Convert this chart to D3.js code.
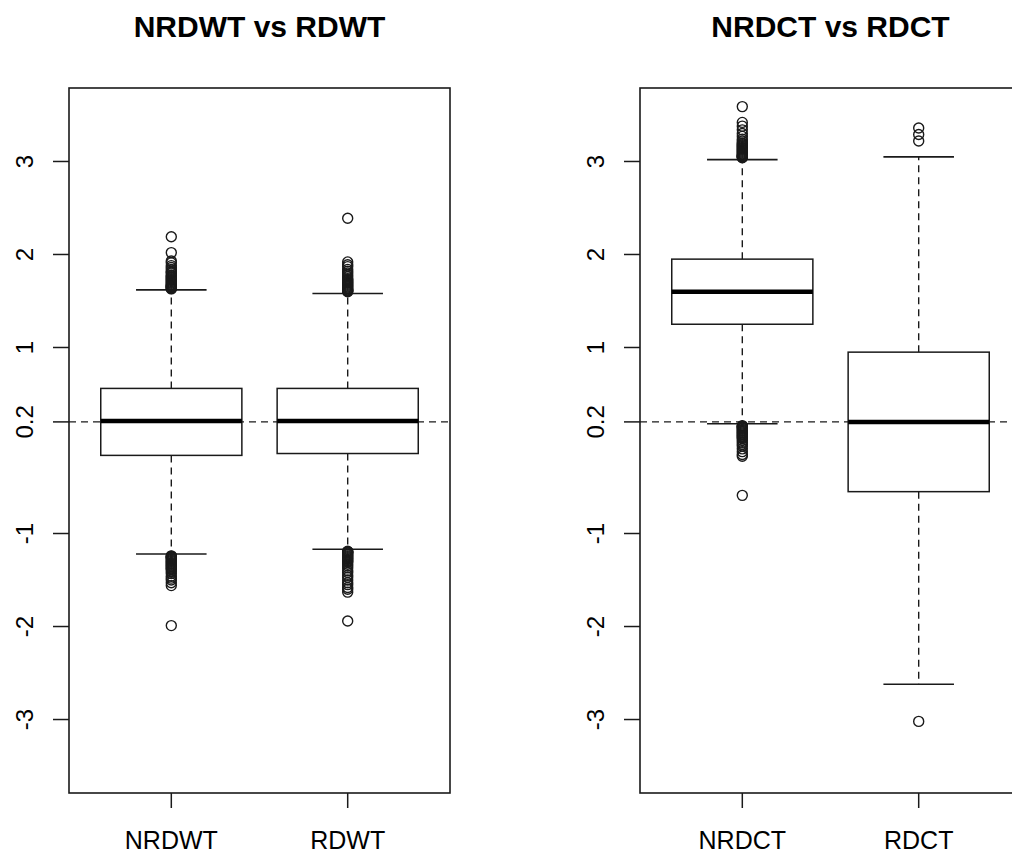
<!DOCTYPE html>
<html lang="en">
<head>
    <meta charset="UTF-8">
    <title>NRDWT vs RDWT / NRDCT vs RDCT</title>
    <script src="https://d3js.org/d3.v7.min.js"></script>
    <style>
        body { margin: 0; background: white; }
        svg { font-family: "Liberation Sans", Arial, sans-serif; }
    </style>
</head>
<body>
    <svg width="1012" height="858"></svg>

    <script>
        // ---- data ----
        const titles = ["NRDWT vs RDWT", "NRDCT vs RDCT"];
        const groups = [["NRDWT", "RDWT"], ["NRDCT", "RDCT"]];

        const whiskerLow = [[-1.22, -1.17], [0.18, -2.62]];
        const q1 = [[-0.16, -0.14], [1.25, -0.55]];
        const median = [[0.21, 0.21], [1.60, 0.20]];
        const q3 = [[0.56, 0.56], [1.95, 0.95]];
        const whiskerHigh = [[1.62, 1.58], [3.02, 3.05]];

        const outliers = [
            [
                // NRDWT
                [1.63, 1.635, 1.64, 1.645, 1.65, 1.655, 1.66, 1.665, 1.67, 1.68, 1.69, 1.70, 1.71, 1.72,
                 1.73, 1.74, 1.75, 1.76, 1.77, 1.78, 1.80, 1.81, 1.82, 1.84, 1.86, 1.88, 1.91, 1.93, 2.02, 2.19,
                 -1.24, -1.245, -1.25, -1.255, -1.26, -1.27, -1.28, -1.29, -1.30, -1.31, -1.32, -1.33, -1.34,
                 -1.35, -1.36, -1.37, -1.38, -1.39, -1.41, -1.43, -1.46, -1.48, -1.50, -1.53, -1.56, -1.99],
                // RDWT
                [1.60, 1.605, 1.61, 1.615, 1.62, 1.63, 1.64, 1.65, 1.66, 1.67, 1.68, 1.69, 1.70, 1.71, 1.72,
                 1.73, 1.74, 1.76, 1.78, 1.80, 1.82, 1.84, 1.87, 1.89, 1.92, 2.39,
                 -1.19, -1.195, -1.20, -1.205, -1.21, -1.22, -1.23, -1.24, -1.25, -1.26, -1.27, -1.28, -1.29,
                 -1.30, -1.31, -1.33, -1.35, -1.37, -1.40, -1.42, -1.45, -1.47, -1.50, -1.53, -1.55, -1.58,
                 -1.60, -1.63, -1.94]
            ],
            [
                // NRDCT
                [3.04, 3.045, 3.05, 3.055, 3.06, 3.065, 3.07, 3.08, 3.09, 3.10, 3.11, 3.12, 3.13, 3.14, 3.15,
                 3.16, 3.17, 3.18, 3.19, 3.20, 3.22, 3.24, 3.27, 3.30, 3.34, 3.38, 3.42, 3.59,
                 0.16, 0.155, 0.15, 0.145, 0.14, 0.13, 0.12, 0.11, 0.10, 0.09, 0.08, 0.07, 0.06, 0.05, 0.04,
                 0.03, 0.02, 0.00, -0.02, -0.04, -0.06, -0.09, -0.12, -0.15, -0.17, -0.59],
                // RDCT
                [3.22, 3.29, 3.36, -3.02]
            ]
        ];

        const tickValues = [-3, -2, -1, 0.2, 1, 2, 3];
        const tickLabels = ["-3", "-2", "-1", "0.2", "1", "2", "3"];
        const refLine = 0.2;

        // ---- layout ----
        const svg = d3.select("svg");
        const frameTop = 88, frameBottom = 793, frameWidth = 381;
        const frameLefts = [69, 640];
        const ink = "#1a1a1a";

        const y = d3.scaleLinear().domain([-3.79, 3.79]).range([frameBottom, frameTop]);

        titles.forEach((title, p) => {
            const left = frameLefts[p];
            const x = d3.scaleLinear().domain([0.42, 2.58]).range([left, left + frameWidth]);
            const unit = x(1) - x(0);
            const boxW = 0.8 * unit;
            const capW = 0.4 * unit;
            const g = svg.append("g");

            // title
            g.append("text")
                .attr("x", left + frameWidth / 2)
                .attr("y", 37)
                .attr("text-anchor", "middle")
                .attr("font-size", 30)
                .attr("font-weight", "bold")
                .attr("fill", "black")
                .text(title);

            // reference line
            g.append("line")
                .attr("x1", left).attr("x2", left + frameWidth)
                .attr("y1", y(refLine)).attr("y2", y(refLine))
                .attr("stroke", ink).attr("stroke-width", 1.4)
                .attr("stroke-dasharray", "7,5");

            groups[p].forEach((name, i) => {
                const cx = x(i + 1);

                // whiskers
                [[whiskerHigh[p][i], q3[p][i]], [whiskerLow[p][i], q1[p][i]]].forEach(([w, q]) => {
                    g.append("line")
                        .attr("x1", cx).attr("x2", cx)
                        .attr("y1", y(q)).attr("y2", y(w))
                        .attr("stroke", ink).attr("stroke-width", 1.4)
                        .attr("stroke-dasharray", "7,5");
                    g.append("line")
                        .attr("x1", cx - capW / 2).attr("x2", cx + capW / 2)
                        .attr("y1", y(w)).attr("y2", y(w))
                        .attr("stroke", ink).attr("stroke-width", 1.6);
                });

                // box
                g.append("rect")
                    .attr("x", cx - boxW / 2)
                    .attr("y", y(q3[p][i]))
                    .attr("width", boxW)
                    .attr("height", y(q1[p][i]) - y(q3[p][i]))
                    .attr("fill", "white")
                    .attr("stroke", ink).attr("stroke-width", 1.5);

                // median
                g.append("line")
                    .attr("x1", cx - boxW / 2).attr("x2", cx + boxW / 2)
                    .attr("y1", y(median[p][i])).attr("y2", y(median[p][i]))
                    .attr("stroke", "black").attr("stroke-width", 4.5);

                // outliers
                g.selectAll(null)
                    .data(outliers[p][i])
                    .join("circle")
                    .attr("cx", cx)
                    .attr("cy", d => y(d))
                    .attr("r", 5)
                    .attr("fill", "none")
                    .attr("stroke", ink).attr("stroke-width", 1.4);

                // x tick + label
                g.append("line")
                    .attr("x1", cx).attr("x2", cx)
                    .attr("y1", frameBottom).attr("y2", frameBottom + 15)
                    .attr("stroke", ink).attr("stroke-width", 1.5);
                g.append("text")
                    .attr("x", cx)
                    .attr("y", 849)
                    .attr("text-anchor", "middle")
                    .attr("font-size", 25)
                    .attr("fill", "black")
                    .text(name);
            });

            // y axis ticks + labels (rotated, R style)
            tickValues.forEach((v, k) => {
                g.append("line")
                    .attr("x1", left - 16).attr("x2", left)
                    .attr("y1", y(v)).attr("y2", y(v))
                    .attr("stroke", ink).attr("stroke-width", 1.5);
                g.append("text")
                    .attr("transform", `translate(${left - 36},${y(v)}) rotate(-90)`)
                    .attr("text-anchor", "middle")
                    .attr("font-size", 24)
                    .attr("fill", "black")
                    .text(tickLabels[k]);
            });

            // frame
            g.append("rect")
                .attr("x", left).attr("y", frameTop)
                .attr("width", frameWidth).attr("height", frameBottom - frameTop)
                .attr("fill", "none")
                .attr("stroke", ink).attr("stroke-width", 1.6);
        });
    </script>
</body>
</html>
